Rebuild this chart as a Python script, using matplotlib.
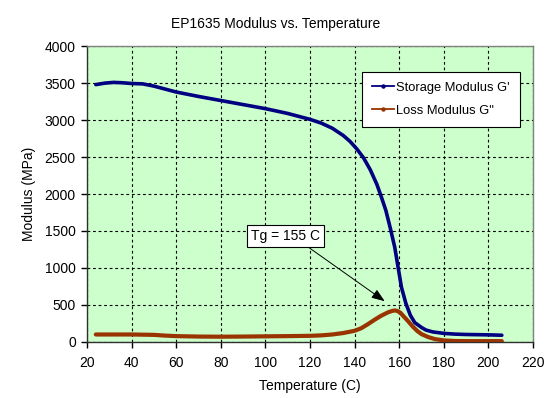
import matplotlib
matplotlib.use('Agg')
import matplotlib.pyplot as plt
from matplotlib.lines import Line2D

# values
temp_storage = [24, 28, 32, 36, 40, 45, 50, 60, 70, 80, 90, 100, 110, 120, 125,
                130, 135, 138, 141, 144, 147, 150, 152, 154, 156, 158, 159.5,
                161, 163, 165, 167, 170, 172, 175, 180, 185, 190, 200, 206]
storage = [3480, 3500, 3510, 3505, 3495, 3490, 3460, 3380, 3320, 3265, 3210,
           3155, 3090, 3010, 2960, 2890, 2790, 2710, 2610, 2490, 2330, 2130,
           1960, 1780, 1540, 1280, 1010, 740, 520, 360, 260, 195, 160, 135,
           115, 105, 100, 95, 90]

temp_loss = [24, 30, 40, 50, 55, 60, 70, 80, 90, 100, 110, 120, 125, 130, 135,
             140, 143, 146, 149, 152, 155, 157, 158, 159, 160.5, 162, 164, 166,
             168, 170, 173, 176, 180, 185, 190, 200, 206]
loss = [100, 100, 100, 95, 85, 78, 72, 70, 72, 75, 78, 82, 88, 100, 120, 150,
        185, 240, 300, 355, 400, 420, 425, 420, 395, 345, 280, 210, 150, 105,
        65, 38, 20, 12, 10, 10, 10]

series_labels = ["Storage Modulus G'", 'Loss Modulus G"']
x_ticks = list(range(20, 221, 20))
y_ticks = list(range(0, 4001, 500))

plt.rcParams['font.family'] = ['Liberation Sans', 'DejaVu Sans']

navy = '#000080'
brown = '#993300'

fig = plt.figure(figsize=(5.57, 3.98), dpi=100)
ax = fig.add_axes([0.156, 0.141, 0.801, 0.743])
ax.set_facecolor('#CCFFCC')

ax.plot(temp_storage, storage, color=navy, lw=2.6, solid_capstyle='round', zorder=3)
ax.plot(temp_loss, loss, color=brown, lw=3.0, solid_capstyle='round', zorder=3)

ax.set_xlim(20, 220)
ax.set_ylim(0, 4000)
ax.set_xticks(x_ticks)
ax.set_yticks(y_ticks)
ax.tick_params(direction='out', length=4, width=1, labelsize=10, pad=4, colors='black')
ax.tick_params(axis='x', pad=6)

ax.grid(True, color='black', linestyle=(0, (2.5, 2.5)), lw=0.8)
ax.set_axisbelow(True)

for side in ['left', 'bottom']:
    ax.spines[side].set_color('#303030')
    ax.spines[side].set_linewidth(1)
for side in ['top', 'right']:
    ax.spines[side].set_color('#808080')
    ax.spines[side].set_linewidth(1)

ax.set_xlabel('Temperature (C)', fontsize=10, labelpad=7)
ax.set_ylabel('Modulus (MPa)', fontsize=10)
ax.yaxis.set_label_coords(-0.114, 0.5)

fig.text(0.495, 0.94, 'EP1635 Modulus vs. Temperature', ha='center', va='center', fontsize=10)

handles = [Line2D([], [], color=navy, lw=1.3, marker='o', ms=2.2),
           Line2D([], [], color=brown, lw=1.3, marker='o', ms=2.2)]
leg = ax.legend(handles, series_labels, loc='upper left', bbox_to_anchor=(0.617, 0.912),
                borderaxespad=0, fontsize=9.3, frameon=True, fancybox=False,
                edgecolor='black', framealpha=1, handlelength=1.7,
                handletextpad=0.2, labelspacing=0.85, borderpad=0.75)
leg.get_frame().set_linewidth(0.8)

ax.annotate('Tg = 155 C', xy=(153.5, 550), xytext=(109, 1430),
            ha='center', va='center', fontsize=10,
            bbox=dict(boxstyle='square,pad=0.3', fc='white', ec='black', lw=0.8),
            arrowprops=dict(arrowstyle='-|>,head_length=0.8,head_width=0.3',
                            color='black', lw=0.7, relpos=(0.75, 0), shrinkA=0, shrinkB=0))

fig.savefig('out.png', dpi=100)
